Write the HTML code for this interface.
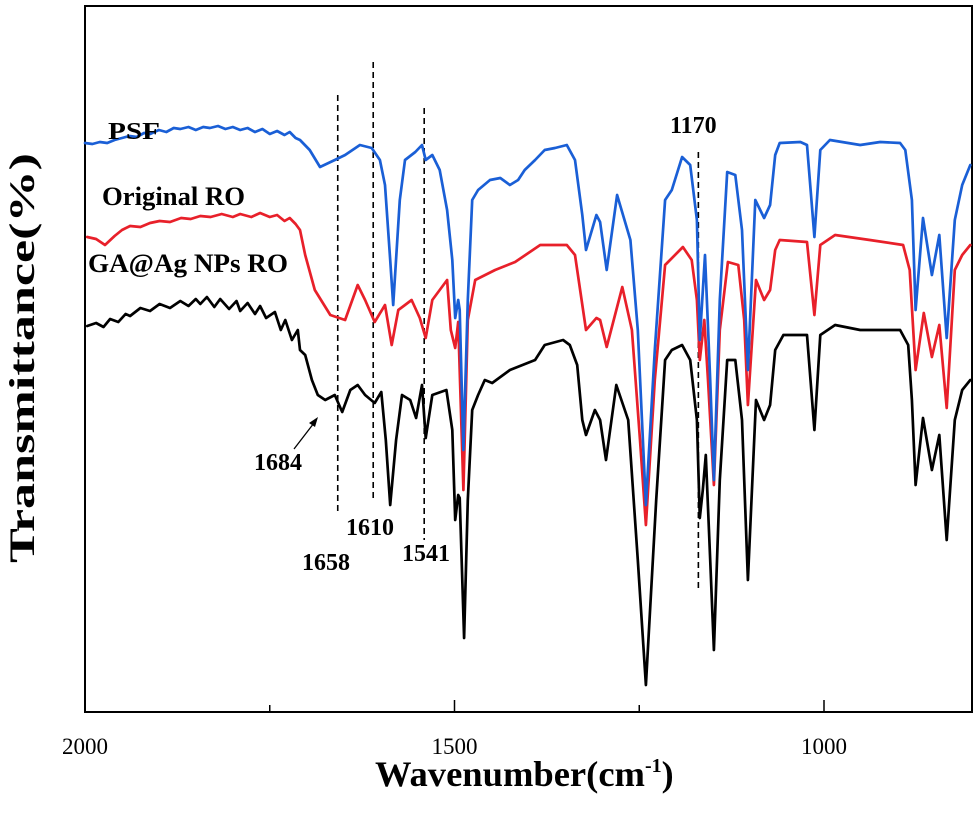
<!DOCTYPE html>
<html><head><meta charset="utf-8"><style>
html,body{margin:0;padding:0;background:#fff;}
svg{display:block;font-family:"Liberation Serif",serif;}
</style></head><body>
<svg id="chart" width="978" height="822" viewBox="0 0 978 822">
<rect x="85" y="6" width="887" height="706" fill="#fff" stroke="#000" stroke-width="2"/>
<g id="ticks"></g>
<g id="guides"></g>
<g id="series"></g>
<g font-weight="bold" fill="#000">
<text x="108" y="139" font-size="24" textLength="52" lengthAdjust="spacingAndGlyphs">PSF</text>
<text x="102" y="205" font-size="26" textLength="143" lengthAdjust="spacingAndGlyphs">Original RO</text>
<text x="88" y="272" font-size="26" textLength="200" lengthAdjust="spacingAndGlyphs">GA@Ag NPs RO</text>
<text x="670" y="133" font-size="24">1170</text>
<text x="254" y="470" font-size="24">1684</text>
<text x="302" y="570" font-size="24">1658</text>
<text x="346" y="535" font-size="24">1610</text>
<text x="402" y="561" font-size="24">1541</text>
</g>
<g>
<line x1="294" y1="449" x2="314" y2="423" stroke="#000" stroke-width="1.3"/>
<polygon points="318,417 309,423 315,427" fill="#000"/>
</g>
<text x="375" y="786" font-size="36" font-weight="bold"><tspan textLength="270" lengthAdjust="spacingAndGlyphs">Wavenumber(cm</tspan><tspan font-size="20" dy="-14">-1</tspan><tspan dy="14">)</tspan></text>
<text transform="translate(34,358) rotate(-90)" text-anchor="middle" font-size="36" font-weight="bold" textLength="410" lengthAdjust="spacingAndGlyphs">Transmittance(%)</text>
</svg>
<script>
const xTicksMajor = [2000, 1500, 1000];
const xTicksMinor = [1750, 1250];
const guideWn = [1658, 1610, 1541, 1170];
const guideTop = [617, 650, 604, 560];
const guideBottom = [197, 212, 172, 124];

const psfWn = [2000,1990,1980,1970,1960,1950,1940,1930,1920,1912,1900,1890,1880,1871,1860,1850,1840,1831,1820,1810,1800,1790,1780,1770,1760,1750,1740,1730,1723,1715,1709,1696,1682,1662,1648,1628,1612,1601,1594,1587,1583,1574,1567,1553,1544,1539,1530,1520,1510,1503,1499,1495,1493,1488,1482,1476,1468,1452,1438,1425,1414,1405,1391,1378,1364,1348,1337,1327,1322,1308,1303,1294,1280,1262,1252,1241,1229,1215,1206,1192,1181,1172,1168,1161,1154,1149,1141,1131,1120,1111,1103,1093,1081,1073,1066,1060,1032,1023,1013,1005,992,951,924,897,890,881,876,866,854,844,834,823,813,802];
const psfT = [569,568,570,569,572,574,576,575,579,578,582,580,584,583,585,582,585,584,586,583,585,582,584,580,583,578,581,577,580,574,572,562,545,552,557,567,564,552,527,452,407,512,552,560,567,552,557,542,502,452,394,412,402,262,412,512,522,532,534,527,532,542,552,562,564,567,552,497,462,497,490,442,517,472,382,207,362,512,522,555,547,492,372,457,332,232,412,540,537,482,342,512,494,507,557,569,570,567,475,562,572,567,570,569,562,512,402,494,437,477,374,492,527,547];

const roWn = [1997,1985,1973,1960,1950,1939,1925,1912,1899,1885,1870,1857,1844,1830,1815,1800,1790,1775,1763,1750,1740,1730,1723,1715,1709,1702,1689,1668,1648,1631,1621,1608,1594,1585,1576,1567,1558,1547,1539,1530,1520,1510,1505,1499,1495,1488,1482,1472,1445,1418,1384,1348,1337,1322,1308,1303,1294,1273,1260,1249,1241,1229,1215,1191,1179,1172,1168,1162,1157,1149,1141,1130,1116,1108,1103,1092,1081,1073,1066,1060,1023,1013,1005,985,938,893,884,876,865,854,844,834,823,813,802];
const roT = [475,473,467,476,482,486,485,489,491,490,494,493,496,495,498,495,498,495,499,495,497,491,494,488,482,457,422,397,392,427,412,390,407,367,402,407,412,394,374,412,422,432,382,364,390,222,392,432,442,450,467,467,457,382,394,392,365,425,382,272,187,332,447,465,452,412,352,392,332,227,382,450,447,392,307,432,412,422,462,472,470,397,467,477,472,467,442,342,399,355,387,304,442,457,467];

const gaWn = [1997,1985,1975,1966,1955,1945,1939,1925,1912,1899,1885,1871,1860,1850,1844,1835,1825,1817,1805,1795,1790,1780,1770,1763,1755,1743,1735,1729,1720,1712,1709,1702,1693,1685,1675,1662,1652,1641,1631,1621,1608,1599,1593,1587,1579,1571,1560,1552,1544,1539,1530,1511,1503,1499,1495,1493,1487,1482,1476,1468,1459,1449,1425,1391,1378,1353,1344,1334,1327,1322,1310,1303,1295,1281,1265,1252,1241,1227,1215,1206,1192,1181,1172,1168,1164,1160,1154,1149,1141,1131,1120,1111,1103,1092,1081,1073,1066,1055,1023,1013,1005,985,951,897,886,881,876,866,854,844,834,823,813,802];
const gaT = [386,389,385,393,390,398,396,404,401,408,404,411,406,413,408,415,405,413,403,411,401,409,398,406,394,400,382,392,372,382,362,357,332,317,312,317,300,322,327,317,309,320,272,207,272,317,312,294,327,274,317,322,282,192,217,214,74,212,302,317,332,329,342,352,367,372,367,347,292,277,302,292,252,327,292,152,27,212,352,362,367,352,292,194,222,257,152,62,232,352,352,292,132,312,292,307,362,377,377,282,377,387,382,382,367,312,227,294,242,277,172,292,322,332];

const NS = 'http://www.w3.org/2000/svg';
function xs(w){ return 85 + (2000 - w) * 0.739; }
function ys(t){ return 712 - t; }

const tickG = document.getElementById('ticks');
xTicksMajor.forEach(function(w){
  const l = document.createElementNS(NS,'line');
  l.setAttribute('x1', xs(w)); l.setAttribute('x2', xs(w));
  l.setAttribute('y1', 712); l.setAttribute('y2', 700);
  l.setAttribute('stroke','#000'); l.setAttribute('stroke-width','1.5');
  
  
  tickG.appendChild(l);
  const t = document.createElementNS(NS,'text');
  t.setAttribute('x', xs(w)); t.setAttribute('y', 754);
  t.setAttribute('text-anchor','middle'); t.setAttribute('font-size','23');
  t.textContent = w;
  
  
  tickG.appendChild(t);
});
xTicksMinor.forEach(function(w){
  const l = document.createElementNS(NS,'line');
  l.setAttribute('x1', xs(w)); l.setAttribute('x2', xs(w));
  l.setAttribute('y1', 712); l.setAttribute('y2', 705);
  l.setAttribute('stroke','#000'); l.setAttribute('stroke-width','1.5');
  
  
  tickG.appendChild(l);
});

const guideG = document.getElementById('guides');
guideWn.forEach(function(w, i){
  const l = document.createElementNS(NS,'line');
  l.setAttribute('x1', xs(w)); l.setAttribute('x2', xs(w));
  l.setAttribute('y1', ys(guideTop[i])); l.setAttribute('y2', ys(guideBottom[i]));
  l.setAttribute('stroke','#000'); l.setAttribute('stroke-width','1.6');
  l.setAttribute('stroke-dasharray','6,4');
  
  
  guideG.appendChild(l);
});

const seriesG = document.getElementById('series');
function addSeries(wn, tv, color, name){
  const pts = wn.map(function(w,i){ return xs(w).toFixed(1) + ',' + ys(tv[i]).toFixed(1); }).join(' ');
  const line = document.createElementNS(NS,'polyline');
  line.setAttribute('points', pts);
  line.setAttribute('fill','none');
  line.setAttribute('stroke', color);
  line.setAttribute('stroke-width','2.7');
  line.setAttribute('stroke-linejoin','round');
  line.setAttribute('stroke-linecap','round');
  
  
  seriesG.appendChild(line);
}
addSeries(gaWn, gaT, '#000000', 'ga-ag-nps-ro-line');
addSeries(roWn, roT, '#e8202a', 'original-ro-line');
addSeries(psfWn, psfT, '#1a5fd6', 'psf-line');
</script>
</body></html>
